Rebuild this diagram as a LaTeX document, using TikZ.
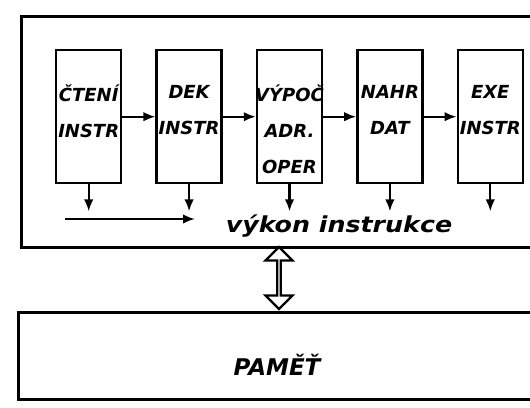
\documentclass[tikz,border=0pt]{standalone}
\usepackage{fontspec}
\newfontfamily\handfont{DejaVu Sans}
\usepackage{tikz}
\usetikzlibrary{arrows.meta,positioning,shapes.arrows}
\newcommand{\hand}{\handfont\bfseries\itshape}

\begin{document}
\begin{tikzpicture}[x=1pt, y=-1pt, node distance=33pt,
  frame/.style={draw, line width=3.2pt, anchor=north west, inner sep=0pt},
  stage/.style={draw, line width=2.4pt, minimum width=65pt, minimum height=133pt, inner sep=0pt},
  stagetxt/.style={align=center, inner sep=0pt, font=\hand\fontsize{18}{36}\selectfont,
    execute at begin node=\vphantom{ČÝ}},
  flow/.style={line width=2.2pt, -{Latex[length=12pt, width=9.5pt]}}]
  \useasboundingbox (0,0) rectangle (530,407);
  \clip (0,0) rectangle (530,407);
  \node[frame, minimum width=520pt, minimum height=231pt] (cpu) at (20,15) {};
  \node[frame, minimum width=530pt, minimum height=87pt] (mem) at (17,311) {};
  \node[font=\hand\fontsize{23}{23}\selectfont] (memlbl) at ([yshift=-9pt]mem.center -| 277,0) {PAMĚŤ};
  \node[stage, anchor=north west] (read) at (55,49) {};
  \node[stage, right=of read] (dec) {};
  \node[stage, right=of dec] (addr) {};
  \node[stage, right=of addr] (load) {};
  \node[stage, right=of load] (exec) {};
  \node[stagetxt, below=36pt of read.north, anchor=north] (readtxt) {ČTENÍ\\INSTR};
  \node[stagetxt, below=36pt of dec.north, anchor=north] (dectxt) {DEK\\INSTR};
  \node[stagetxt, below=36pt of addr.north, anchor=north] (addrtxt) {VÝPOČ\\ADR.\\OPER};
  \node[stagetxt, below=36pt of load.north, anchor=north] (loadtxt) {NAHR\\DAT};
  \node[stagetxt, below=36pt of exec.north, anchor=north] (exectxt) {EXE\\INSTR};
  \draw[flow] (read) -- (dec);
  \draw[flow] (dec) -- (addr);
  \draw[flow] (addr) -- (load);
  \draw[flow] (load) -- (exec);
  \foreach \s in {read,dec,addr,load,exec} {
    \coordinate (\s-out) at ([yshift=-27pt]\s.south);
    \draw[flow] (\s) -- (\s-out);
  }
  \coordinate (progA) at (65,219);
  \coordinate (progB) at (195,219);
  \draw[flow] (progA) -- (progB);
  \node[anchor=base, xscale=1.15, inner sep=0pt, font=\hand\fontsize{22}{22}\selectfont] (runlbl) at (339,232) {výkon instrukce};
  \node[double arrow, draw, line width=2.2pt, rotate=90, minimum height=62pt, minimum width=27pt,
    double arrow head extend=7pt, inner sep=0pt] (bus) at (279,278) {};
\end{tikzpicture}
\end{document}
